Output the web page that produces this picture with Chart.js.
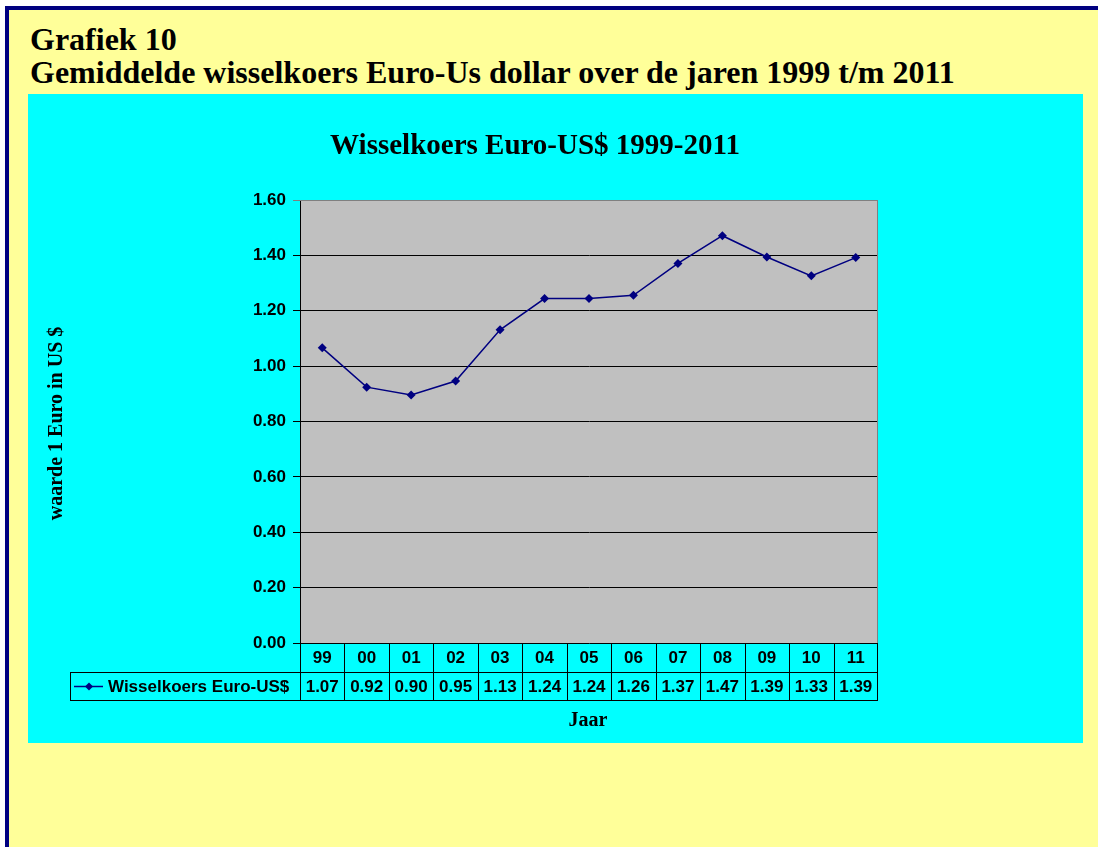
<!DOCTYPE html>
<html>
<head>
<meta charset="utf-8">
<title>Grafiek 10</title>
<script src="https://cdn.jsdelivr.net/npm/chart.js@4.4.0/dist/chart.umd.min.js"></script>
<style>
    html, body { margin: 0; padding: 0; background: #ffffff; overflow: hidden; width: 1098px; height: 847px; }
    #frame {
        position: absolute; left: 5px; top: 6px; right: 0; bottom: 0;
        background: #FFFF99;
        border-left: 4px solid #000080;
        border-top: 4px solid #000080;
    }
    #heading {
        position: absolute; left: 30px; top: 23px;
        font: bold 32px "Liberation Serif", "Times New Roman", serif;
        line-height: 33px; color: #000; white-space: nowrap;
    }
    #salesBox { position: absolute; left: 28px; top: 94px; width: 1055px; height: 649px; }
</style>
</head>
<body>
<div id="frame"></div>
<div id="heading">Grafiek 10<br>Gemiddelde wisselkoers Euro-Us dollar over de jaren 1999 t/m 2011</div>
<div id="salesBox"><canvas id="rateChart" width="1055" height="649"></canvas></div>
<script>
(function() {
    'use strict';

    // Data van de grafiek
    const years = ['99', '00', '01', '02', '03', '04', '05', '06', '07', '08', '09', '10', '11'];
    const rates = [1.066, 0.924, 0.896, 0.946, 1.131, 1.244, 1.244, 1.256, 1.371, 1.471, 1.394, 1.326, 1.392];
    const seriesName = 'Wisselkoers Euro-US$';
    const chartTitle = 'Wisselkoers Euro-US$ 1999-2011';
    const yTitle = 'waarde 1 Euro in US $';
    const xTitle = 'Jaar';

    const NAVY = '#000080';
    const tableFont = 'bold 17px "Liberation Sans", Arial, sans-serif';
    const serif = '"Liberation Serif", "Times New Roman", serif';

    // Achtergrond, plotvlak, titels en datatabel
    const decorPlugin = {
        id: 'decor',
        beforeDraw(chart) {
            const ctx = chart.ctx;
            const a = chart.chartArea;
            ctx.save();
            ctx.fillStyle = '#00FFFF';
            ctx.fillRect(0, 0, chart.width, chart.height);
            ctx.fillStyle = '#C0C0C0';
            ctx.fillRect(a.left, a.top, a.right - a.left, a.bottom - a.top);
            ctx.restore();
        },
        afterDraw(chart) {
            const ctx = chart.ctx;
            const a = chart.chartArea;
            const xs = chart.scales.x;
            const band = (a.right - a.left) / years.length;
            const row1Bot = a.bottom + 29;
            const row2Bot = row1Bot + 28;
            const tableLeft = a.left - 230;

            ctx.save();
            // rand plotvlak rechts en boven
            ctx.strokeStyle = '#808080';
            ctx.lineWidth = 1;
            ctx.beginPath();
            ctx.moveTo(a.left, a.top + 0.5);
            ctx.lineTo(a.right - 0.5, a.top + 0.5);
            ctx.lineTo(a.right - 0.5, a.bottom);
            ctx.stroke();

            // tabel lijnen
            ctx.strokeStyle = '#000';
            ctx.beginPath();
            ctx.moveTo(tableLeft, row1Bot + 0.5);
            ctx.lineTo(a.right, row1Bot + 0.5);
            ctx.moveTo(tableLeft, row2Bot + 0.5);
            ctx.lineTo(a.right, row2Bot + 0.5);
            ctx.moveTo(tableLeft + 0.5, row1Bot);
            ctx.lineTo(tableLeft + 0.5, row2Bot);
            for (let i = 0; i <= years.length; i++) {
                const x = Math.round(a.left + i * band) + (i === years.length ? -0.5 : 0.5);
                ctx.moveTo(x, a.bottom);
                ctx.lineTo(x, row2Bot);
            }
            ctx.stroke();

            // tabel tekst
            ctx.fillStyle = '#000';
            ctx.font = tableFont;
            ctx.textAlign = 'center';
            ctx.textBaseline = 'middle';
            years.forEach((y, i) => {
                const cx = xs.getPixelForValue(i);
                ctx.fillText(y, cx, (a.bottom + row1Bot) / 2 + 1);
                ctx.fillText(rates[i].toFixed(2), cx, (row1Bot + row2Bot) / 2 + 1);
            });

            // legenda in tabel
            const ly = (row1Bot + row2Bot) / 2 + 0.5;
            ctx.strokeStyle = NAVY;
            ctx.lineWidth = 1.5;
            ctx.beginPath();
            ctx.moveTo(tableLeft + 4, ly);
            ctx.lineTo(tableLeft + 33, ly);
            ctx.stroke();
            ctx.fillStyle = NAVY;
            ctx.beginPath();
            const dx = tableLeft + 19;
            ctx.moveTo(dx, ly - 4);
            ctx.lineTo(dx + 4, ly);
            ctx.lineTo(dx, ly + 4);
            ctx.lineTo(dx - 4, ly);
            ctx.closePath();
            ctx.fill();
            ctx.fillStyle = '#000';
            ctx.textAlign = 'left';
            ctx.fillText(seriesName, tableLeft + 38, ly + 1);

            // titels
            ctx.textAlign = 'center';
            ctx.textBaseline = 'alphabetic';
            ctx.font = 'bold 29px ' + serif;
            ctx.fillText(chartTitle, 507, 60);
            ctx.font = 'bold 20px ' + serif;
            ctx.fillText(xTitle, 560, 632);
            ctx.translate(34, (a.top + a.bottom) / 2 + 2);
            ctx.rotate(-Math.PI / 2);
            ctx.font = 'bold 20px ' + serif;
            ctx.fillText(yTitle, 0, 0);
            ctx.restore();
        }
    };

    function initChart() {
        const ctx = document.getElementById('rateChart').getContext('2d');
        new Chart(ctx, {
            type: 'line',
            data: {
                labels: years,
                datasets: [{
                    label: seriesName,
                    data: rates,
                    borderColor: NAVY,
                    backgroundColor: NAVY,
                    borderWidth: 1.5,
                    pointStyle: 'rectRot',
                    pointRadius: 4.5,
                    pointBorderWidth: 0,
                    tension: 0
                }]
            },
            options: {
                responsive: false,
                animation: false,
                layout: { padding: { left: 222, top: 106, right: 205, bottom: 100 } },
                plugins: {
                    legend: { display: false },
                    title: { display: false },
                    tooltip: { enabled: false }
                },
                scales: {
                    x: {
                        display: false,
                        offset: true
                    },
                    y: {
                        min: 0,
                        max: 1.6,
                        afterFit(scale) { scale.width = 50; },
                        ticks: {
                            stepSize: 0.2,
                            color: '#000',
                            padding: 7,
                            font: { family: '"Liberation Sans", Arial, sans-serif', size: 17, weight: 'bold' },
                            callback: v => v.toFixed(2)
                        },
                        grid: {
                            color: c => (c.tick && c.tick.value >= 1.6) ? '#808080' : '#000',
                            lineWidth: 1,
                            tickLength: 7
                        },
                        border: { display: true, color: '#000', width: 1 }
                    }
                }
            },
            plugins: [decorPlugin]
        });
    }

    if (document.readyState === 'loading') {
        document.addEventListener('DOMContentLoaded', initChart);
    } else {
        initChart();
    }
})();
</script>
</body>
</html>
